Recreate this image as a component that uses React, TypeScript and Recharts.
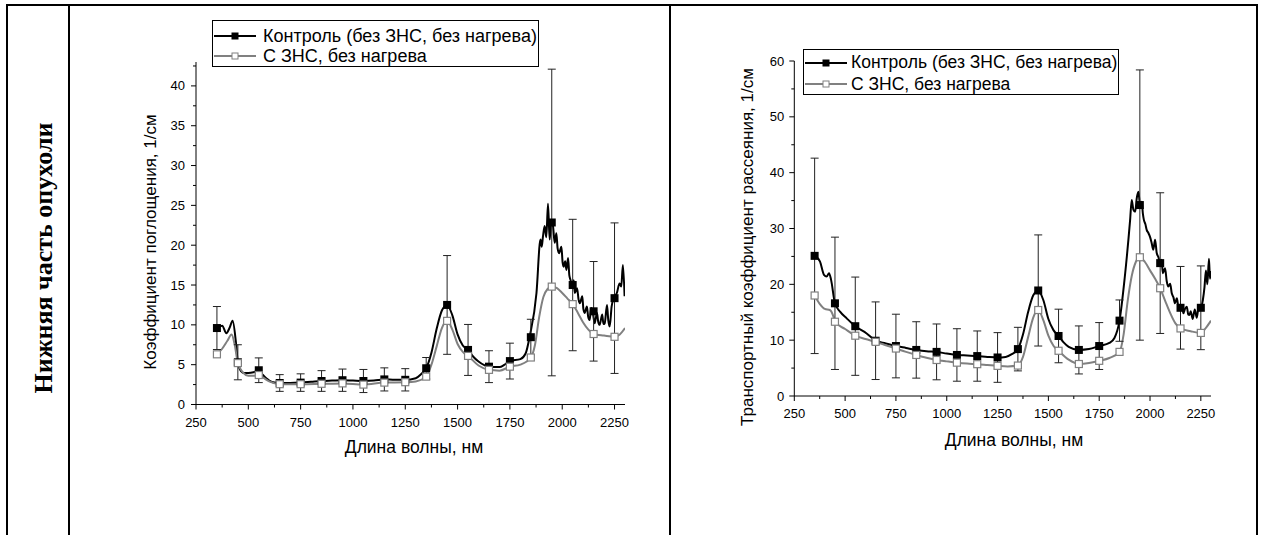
import React from 'react';
import { ComposedChart, Line, Scatter, ErrorBar, XAxis, YAxis, Legend } from 'recharts';

const FONT = '"Liberation Sans", Arial, sans-serif';

type Pt = [number, number];

// wavelengths where markers / error bars are drawn, нм
const markWl = [350, 450, 550, 650, 750, 850, 950, 1050, 1150, 1250, 1350, 1450, 1550, 1650, 1750, 1850, 1950, 2050, 2150, 2250];

// absorption coefficient, 1/см
const absCtrlMarks = [9.6, 5.3, 4.3, 2.7, 2.75, 2.95, 3.05, 2.95, 3.15, 3.1, 4.55, 12.5, 6.85, 4.75, 5.45, 8.45, 22.85, 15.0, 11.7, 13.35];
const absCtrlErr = [2.7, 2.2, 1.55, 1.05, 1.1, 1.3, 1.4, 1.45, 1.45, 1.4, 1.35, 6.2, 3.2, 2.0, 2.25, 2.25, 19.25, 8.25, 6.25, 9.45];
const absZnsMarks = [6.3, 5.2, 3.7, 2.55, 2.55, 2.6, 2.65, 2.5, 2.75, 2.8, 3.5, 10.5, 6.1, 4.35, 4.75, 5.9, 14.8, 12.6, 8.85, 8.5];

const absCtrlCurve: Pt[] = [
  [350, 9.6], [375, 9.9], [395, 8.95], [410, 9.6], [425, 10.5], [440, 8.0], [450, 5.3], [465, 4.2],
  [480, 3.95], [500, 3.95], [525, 4.05], [550, 4.3], [570, 3.7], [600, 3.0], [625, 2.75], [650, 2.7],
  [700, 2.7], [750, 2.75], [800, 2.85], [850, 2.95], [900, 3.0], [950, 3.05], [1000, 3.0], [1050, 2.95],
  [1100, 3.0], [1150, 3.15], [1200, 3.1], [1250, 3.1], [1300, 3.3], [1325, 3.8], [1350, 4.55], [1375, 6.5],
  [1400, 9.5], [1425, 11.8], [1450, 12.5], [1475, 11.2], [1500, 8.8], [1525, 7.4], [1550, 6.85], [1575, 6.0],
  [1600, 5.4], [1650, 4.75], [1700, 4.7], [1725, 5.0], [1750, 5.45], [1800, 5.7], [1825, 6.4], [1845, 8.6],
  [1877, 14.0], [1896, 20.7], [1902, 19.8], [1908, 21.1], [1916, 22.4], [1924, 21.0], [1932, 25.2], [1940, 20.7],
  [1948, 23.0], [1956, 22.4], [1964, 20.3], [1972, 21.5], [1978, 19.6], [1985, 19.0], [1996, 19.8], [2002, 17.8],
  [2007, 17.3], [2014, 18.0], [2020, 16.9], [2028, 18.4], [2034, 16.2], [2039, 15.7], [2049, 15.0], [2055, 15.6],
  [2060, 14.0], [2071, 14.6], [2078, 13.2], [2084, 12.7], [2096, 13.6], [2101, 12.0], [2107, 11.5], [2118, 12.3],
  [2124, 11.0], [2131, 10.6], [2138, 12.1], [2144, 11.9], [2155, 10.2], [2166, 11.5], [2172, 10.4], [2179, 10.0],
  [2191, 11.3], [2197, 10.1], [2203, 10.2], [2214, 12.5], [2220, 10.6], [2227, 9.8], [2236, 12.3], [2247, 13.4],
  [2261, 14.0], [2274, 15.2], [2282, 14.8], [2290, 17.5], [2298, 13.6],
];

const absZnsCurve: Pt[] = [
  [350, 6.3], [375, 7.0], [400, 8.0], [420, 8.8], [435, 7.5], [450, 5.2], [475, 4.0], [500, 3.6],
  [525, 3.6], [550, 3.7], [575, 3.3], [600, 2.9], [650, 2.55], [750, 2.55], [850, 2.6], [950, 2.65],
  [1050, 2.5], [1150, 2.75], [1250, 2.8], [1300, 2.9], [1350, 3.5], [1375, 5.0], [1400, 7.3], [1425, 9.6],
  [1450, 10.5], [1475, 9.4], [1500, 7.6], [1525, 6.6], [1550, 6.1], [1600, 4.9], [1650, 4.35], [1700, 4.25],
  [1750, 4.75], [1800, 5.0], [1850, 5.9], [1870, 7.5], [1890, 11.0], [1910, 13.5], [1930, 14.5], [1950, 14.8],
  [1975, 14.6], [2000, 14.0], [2025, 13.3], [2050, 12.6], [2075, 11.5], [2100, 10.3], [2125, 9.4], [2150, 8.85],
  [2200, 8.65], [2250, 8.5], [2275, 8.8], [2300, 9.6],
];

// transport scattering coefficient, 1/см
const scatCtrlMarks = [25.1, 16.6, 12.5, 9.9, 8.95, 8.25, 7.9, 7.35, 7.15, 6.9, 8.4, 18.9, 10.75, 8.25, 8.95, 13.5, 34.2, 23.8, 15.8, 15.8];
const scatCtrlErr = [17.5, 11.85, 8.8, 6.95, 5.7, 5.05, 5.0, 4.7, 4.5, 4.45, 3.9, 9.95, 4.8, 4.3, 4.2, 3.7, 24.2, 12.6, 7.4, 7.5];
const scatZnsMarks = [18.0, 13.3, 10.8, 9.7, 8.5, 7.35, 6.45, 5.97, 5.7, 5.4, 5.45, 15.4, 8.1, 5.73, 6.3, 7.9, 24.85, 19.3, 12.1, 11.3];

const scatCtrlCurve: Pt[] = [
  [350, 25.1], [376, 24.1], [396, 21.7], [409, 21.4], [421, 22.0], [431, 20.8], [450, 16.6], [475, 15.1],
  [508, 13.9], [550, 12.5], [606, 11.2], [650, 9.9], [700, 9.4], [750, 8.95], [800, 8.6], [850, 8.25],
  [900, 8.0], [950, 7.9], [1000, 7.6], [1050, 7.35], [1100, 7.25], [1150, 7.15], [1200, 7.0], [1250, 6.9],
  [1290, 7.0], [1320, 7.5], [1350, 8.4], [1375, 11.0], [1400, 15.0], [1425, 18.0], [1450, 18.9], [1475, 17.2],
  [1500, 13.8], [1525, 11.8], [1550, 10.75], [1575, 9.6], [1600, 8.8], [1650, 8.25], [1700, 8.4], [1750, 8.95],
  [1800, 9.5], [1825, 10.4], [1850, 13.5], [1875, 21.0], [1902, 31.5], [1910, 35.1], [1918, 33.4], [1927, 33.0],
  [1935, 35.5], [1943, 36.6], [1951, 34.2], [1959, 34.8], [1965, 32.6], [1970, 31.5], [1977, 30.8], [1984, 29.7],
  [1992, 29.2], [2000, 28.5], [2008, 27.4], [2016, 26.2], [2025, 28.0], [2033, 25.6], [2041, 24.9], [2050, 23.8],
  [2057, 24.4], [2063, 22.0], [2074, 22.9], [2082, 20.6], [2090, 19.6], [2099, 20.1], [2107, 18.4], [2115, 17.7],
  [2123, 16.6], [2132, 17.5], [2140, 15.9], [2148, 15.7], [2156, 16.3], [2164, 14.8], [2172, 15.6], [2181, 16.0],
  [2188, 14.6], [2194, 14.5], [2200, 15.2], [2210, 13.8], [2220, 15.5], [2230, 14.0], [2240, 16.2], [2250, 15.8],
  [2260, 17.2], [2268, 19.5], [2275, 22.5], [2282, 20.0], [2290, 24.6], [2295, 21.0], [2300, 22.4],
];

const scatZnsCurve: Pt[] = [
  [350, 18.0], [375, 16.5], [400, 15.6], [425, 15.4], [440, 14.5], [450, 13.3], [500, 12.0], [550, 10.8],
  [600, 10.2], [650, 9.7], [700, 9.1], [750, 8.5], [800, 7.9], [850, 7.35], [900, 6.85], [950, 6.45],
  [1000, 6.2], [1050, 5.97], [1100, 5.8], [1150, 5.7], [1200, 5.55], [1250, 5.4], [1300, 5.3], [1350, 5.45],
  [1375, 7.0], [1400, 10.5], [1425, 14.0], [1450, 15.4], [1475, 13.6], [1500, 10.8], [1525, 9.0], [1550, 8.1],
  [1600, 6.5], [1650, 5.73], [1700, 5.9], [1750, 6.3], [1800, 6.8], [1850, 7.9], [1870, 11.0], [1890, 17.0],
  [1910, 21.5], [1930, 24.0], [1950, 24.85], [1975, 24.0], [2000, 22.5], [2025, 21.0], [2050, 19.3], [2075, 17.0],
  [2100, 14.8], [2125, 13.0], [2150, 12.1], [2200, 11.6], [2250, 11.3], [2275, 12.2], [2300, 13.5],
];

const xTicks = [250, 375, 500, 625, 750, 875, 1000, 1125, 1250, 1375, 1500, 1625, 1750, 1875, 2000, 2125, 2250];
const absYTicks = [0, 2.5, 5, 7.5, 10, 12.5, 15, 17.5, 20, 22.5, 25, 27.5, 30, 32.5, 35, 37.5, 40, 42.5];
const scatYTicks = [0, 5, 10, 15, 20, 25, 30, 35, 40, 45, 50, 55, 60];

const ctrlName = 'Контроль (без ЗНС, без нагрева)';
const znsName = 'С ЗНС, без нагрева';
const GRAY = '#808080';

const toLine = (pts: Pt[]) => pts.map(([x, y]) => ({ x, y }));
const toMarks = (ys: number[], errs?: number[]) =>
  markWl.map((x, i) => ({ x, y: ys[i], err: errs ? errs[i] : 0 }));

const FilledSquare = (p: any) => <rect x={p.cx - 4} y={p.cy - 4} width={8} height={8} fill="#000" />;
const OpenSquare = (p: any) => (
  <rect x={p.cx - 3.5} y={p.cy - 3.5} width={7} height={7} fill="#fff" stroke={GRAY} strokeWidth={1.2} />
);

const makeTick = (side: 'x' | 'y', isMajor: (v: number) => boolean, gap: number) => (p: any) => {
  const { x, y, payload } = p;
  const v = payload.value;
  const major = isMajor(v);
  const len = major ? 5 : 3;
  if (side === 'x') {
    return (
      <g>
        <line x1={x} x2={x} y1={y} y2={y + len} stroke="#000" />
        {major && (
          <text x={x} y={y + gap} textAnchor="middle" dominantBaseline="central" fontSize={13} fontFamily={FONT} fill="#000">
            {v}
          </text>
        )}
      </g>
    );
  }
  return (
    <g>
      <line x1={x - len} x2={x} y1={y} y2={y} stroke="#000" />
      {major && (
        <text x={x - gap} y={y} textAnchor="end" dominantBaseline="central" fontSize={13} fontFamily={FONT} fill="#000">
          {v}
        </text>
      )}
    </g>
  );
};

interface LegendCfg {
  x: number;
  y: number;
  w: number;
  h: number;
  rowTop: number;
  rowGap: number;
  textX: number;
  font: number;
}

function LegendBox({ cfg }: { cfg: LegendCfg }) {
  const rows = [
    { name: ctrlName, color: '#000', fill: '#000' },
    { name: znsName, color: GRAY, fill: '#fff' },
  ];
  return (
    <div style={{ position: 'relative', width: cfg.w, height: cfg.h, border: '1px solid #000', boxSizing: 'border-box', background: '#fff', fontFamily: FONT, fontSize: cfg.font, color: '#000' }}>
      {rows.map((r, i) => (
        <div key={r.name} style={{ position: 'absolute', left: 0, top: cfg.rowTop + i * cfg.rowGap - 11, height: 22, display: 'flex', alignItems: 'center' }}>
          <svg width={44} height={12} style={{ display: 'block' }}>
            <line x1={1} x2={43} y1={6} y2={6} stroke={r.color} strokeWidth={2} />
            <rect x={19} y={3} width={6} height={6} fill={r.fill} stroke={r.color} strokeWidth={1} />
          </svg>
          <span style={{ position: 'absolute', left: cfg.textX, whiteSpace: 'nowrap' }}>{r.name}</span>
        </div>
      ))}
    </div>
  );
}

interface PanelProps {
  left: number;
  width: number;
  height: number;
  margin: { top: number; right: number; bottom: number; left: number };
  yDomain: [number, number];
  yTicks: number[];
  yMajor: number;
  yTitle: string;
  yTitleAt: [number, number];
  xTitleAt: [number, number];
  xGap: number;
  yGap: number;
  ctrlCurve: Pt[];
  znsCurve: Pt[];
  ctrlMarks: number[];
  ctrlErr: number[];
  znsMarks: number[];
  legend: LegendCfg;
}

function Panel(props: PanelProps) {
  const { legend } = props;
  const [yx, yy] = props.yTitleAt;
  const [xx, xy] = props.xTitleAt;
  return (
    <div style={{ position: 'absolute', left: props.left, top: 0 }}>
      <ComposedChart width={props.width} height={props.height} margin={props.margin}>
        <XAxis
          type="number"
          dataKey="x"
          domain={[250, 2300]}
          allowDataOverflow
          ticks={xTicks}
          interval={0}
          height={30}
          tickSize={0}
          tickMargin={0}
          tickLine={false}
          axisLine={{ stroke: '#000', strokeWidth: 1 }}
          tick={makeTick('x', (v) => v % 250 === 0, props.xGap)}
          label={() => (
            <text x={xx} y={xy} textAnchor="middle" dominantBaseline="central" fontSize={17.5} fontFamily={FONT} fill="#000">
              Длина волны, нм
            </text>
          )}
        />
        <YAxis
          type="number"
          domain={props.yDomain}
          allowDataOverflow
          ticks={props.yTicks}
          interval={0}
          width={50}
          tickSize={0}
          tickMargin={0}
          tickLine={false}
          axisLine={{ stroke: '#000', strokeWidth: 1 }}
          tick={makeTick('y', (v) => v % props.yMajor === 0, props.yGap)}
          label={() => (
            <text x={yx} y={yy} transform={`rotate(-90 ${yx} ${yy})`} textAnchor="middle" dominantBaseline="central" fontSize={17} fontFamily={FONT} fill="#000">
              {props.yTitle}
            </text>
          )}
        />
        <Legend
          layout="horizontal"
          verticalAlign="middle"
          align="center"
          wrapperStyle={{ left: legend.x, top: legend.y, width: legend.w, height: legend.h }}
          content={() => <LegendBox cfg={legend} />}
        />
        <Line data={toLine(props.ctrlCurve)} dataKey="y" name={ctrlName} type="monotone" stroke="#000" strokeWidth={2} dot={false} isAnimationActive={false} />
        <Line data={toLine(props.znsCurve)} dataKey="y" name={znsName} type="monotone" stroke={GRAY} strokeWidth={2} dot={false} isAnimationActive={false} />
        <Scatter data={toMarks(props.ctrlMarks, props.ctrlErr)} dataKey="y" shape={FilledSquare} isAnimationActive={false}>
          <ErrorBar dataKey="err" direction="y" width={4} stroke="#222" strokeWidth={1} isAnimationActive={false} />
        </Scatter>
        <Scatter data={toMarks(props.znsMarks)} dataKey="y" shape={OpenSquare} isAnimationActive={false} />
      </ComposedChart>
    </div>
  );
}

export default function App() {
  return (
    <div style={{ position: 'absolute', left: 0, top: 0, width: 1261, height: 535, background: '#fff', overflow: 'hidden' }}>
      <svg width={1261} height={535} style={{ position: 'absolute', left: 0, top: 0 }}>
        <line x1={6} x2={1258} y1={5} y2={5} stroke="#000" strokeWidth={2} />
        <line x1={7} x2={7} y1={4} y2={535} stroke="#000" strokeWidth={2} />
        <line x1={69} x2={69} y1={4} y2={535} stroke="#000" strokeWidth={2} />
        <line x1={670} x2={670} y1={4} y2={535} stroke="#000" strokeWidth={2} />
        <line x1={1257} x2={1257} y1={4} y2={535} stroke="#000" strokeWidth={2} />
        <text x={43} y={258} transform="rotate(-90 43 258)" textAnchor="middle" dominantBaseline="central" fontFamily='"Liberation Serif", "Times New Roman", serif' fontWeight="bold" fontSize={26} fill="#000">
          Нижняя часть опухоли
        </text>
      </svg>
      <Panel
        left={100}
        width={550}
        height={470}
        margin={{ top: 62, right: 25, bottom: 35.5, left: 46 }}
        yDomain={[0, 43]}
        yTicks={absYTicks}
        yMajor={5}
        yTitle="Коэффициент поглощения, 1/см"
        yTitleAt={[50, 242]}
        xTitleAt={[314, 447]}
        xGap={18}
        yGap={11}
        ctrlCurve={absCtrlCurve}
        znsCurve={absZnsCurve}
        ctrlMarks={absCtrlMarks}
        ctrlErr={absCtrlErr}
        znsMarks={absZnsMarks}
        legend={{ x: 112, y: 20, w: 327, h: 47, rowTop: 15, rowGap: 20, textX: 50, font: 18 }}
      />
      <Panel
        left={700}
        width={530}
        height={470}
        margin={{ top: 61, right: 19, bottom: 44, left: 44.3 }}
        yDomain={[0, 60]}
        yTicks={scatYTicks}
        yMajor={10}
        yTitle="Транспортный коэффициент рассеяния, 1/см"
        yTitleAt={[47, 247]}
        xTitleAt={[314, 440]}
        xGap={17}
        yGap={10}
        ctrlCurve={scatCtrlCurve}
        znsCurve={scatZnsCurve}
        ctrlMarks={scatCtrlMarks}
        ctrlErr={scatCtrlErr}
        znsMarks={scatZnsMarks}
        legend={{ x: 103, y: 49, w: 316, h: 46, rowTop: 12.5, rowGap: 21.5, textX: 47, font: 17.5 }}
      />
    </div>
  );
}
